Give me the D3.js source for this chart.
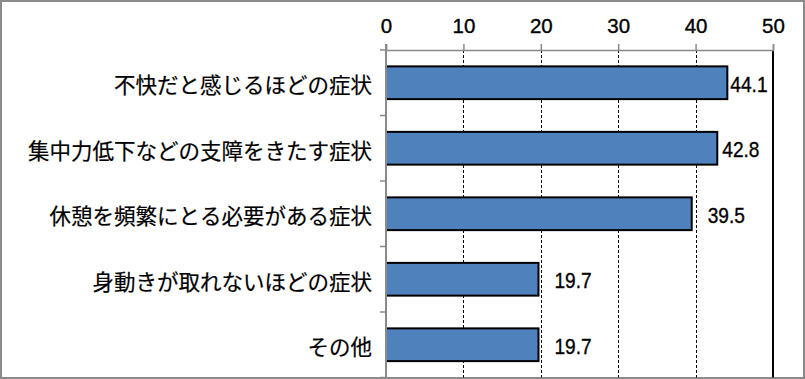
<!DOCTYPE html>
<html><head><meta charset="utf-8">
<script src="https://cdn.jsdelivr.net/npm/d3@7"></script>
<style>
html,body{margin:0;padding:0;background:#fff;}
svg{display:block;}
</style></head>
<body>
<svg id="chart" width="805" height="379"></svg>
<script>
const categories = ["不快だと感じるほどの症状","集中力低下などの支障をきたす症状","休憩を頻繁にとる必要がある症状","身動きが取れないほどの症状","その他"];
const values = [44.1, 42.8, 39.5, 19.7, 19.7];
const valueLabels = ["44.1","42.8","39.5","19.7","19.7"];
const labelGap = [3, 5, 16, 16, 16];
const tickValues = [0, 10, 20, 30, 40, 50];

(function(){
const svg = d3.select("#chart");
const W = 805, H = 379;
const pL = 386, pR = 773, pT = 50, pB = 377.5;

svg.append("rect").attr("x",1).attr("y",1).attr("width",W-2).attr("height",H-2)
  .attr("fill","#fff").attr("stroke","#8a8a8a").attr("stroke-width",2);

const x = d3.scaleLinear().domain([0,50]).range([pL,pR]);
const y = d3.scaleBand().domain(categories).range([pT,pB]).paddingInner(0.5).paddingOuter(0.25);

// gridlines
svg.append("g").selectAll("line").data(tickValues.filter(t=>t>0&&t<50)).join("line")
  .attr("x1",d=>Math.round(x(d))+0.5).attr("x2",d=>Math.round(x(d))+0.5)
  .attr("y1",pT).attr("y2",pB)
  .attr("stroke","#000").attr("stroke-width",1).attr("stroke-dasharray","3,2");

// right solid line
svg.append("line").attr("x1",x(50)).attr("x2",x(50)).attr("y1",pT).attr("y2",pB)
  .attr("stroke","#000").attr("stroke-width",2);

// top axis
const xAxis = d3.axisTop(x).tickValues(tickValues).tickSize(6).tickPadding(11).tickFormat(d3.format("d"));
const gx = svg.append("g").attr("transform",`translate(0,${pT})`).call(xAxis);
gx.attr("font-size",null).attr("font-family",null);
gx.select(".domain").attr("stroke","#8a8a8a").attr("stroke-width",1.5);
gx.selectAll(".tick line").attr("stroke","#8a8a8a").attr("stroke-width",1.5);
gx.selectAll(".tick text").attr("dy",null)
  .style("font-family","'Liberation Sans', Arial, sans-serif").style("font-size","20.5px")
  .attr("fill","#000").attr("stroke","#000").attr("stroke-width",0.35);

// bars
svg.append("g").selectAll("rect").data(values).join("rect")
  .attr("x",x(0)).attr("y",(d,i)=>y(categories[i]))
  .attr("width",d=>x(d)-x(0)).attr("height",y.bandwidth())
  .attr("fill","#4F81BD").attr("stroke","#000").attr("stroke-width",2);

// left axis with boundary ticks
const boundaries = categories.map(c=>y(c)-(y.step()-y.bandwidth())/2).concat([pB]);
svg.append("g").selectAll("line").data(boundaries).join("line")
  .attr("x1",pL-6).attr("x2",pL).attr("y1",d=>d).attr("y2",d=>d)
  .attr("stroke","#8a8a8a").attr("stroke-width",1.5);
svg.append("line").attr("x1",pL).attr("x2",pL).attr("y1",pT-6).attr("y2",pB)
  .attr("stroke","#8a8a8a").attr("stroke-width",2);

// category labels
svg.append("g").selectAll("text").data(categories).join("text")
  .attr("x",pL-14).attr("y",d=>y(d)+y.bandwidth()/2+1)
  .attr("text-anchor","end").attr("dominant-baseline","central")
  .style("font-family","'Noto Sans CJK JP', sans-serif").style("font-size","21.5px")
  .attr("fill","#000").attr("stroke","#000").attr("stroke-width",0.2)
  .text(d=>d);

// value labels
svg.append("g").selectAll("text").data(values).join("text")
  .attr("transform",(d,i)=>`translate(${x(d)+labelGap[i]},${y(categories[i])+y.bandwidth()/2+9}) scale(0.87,1)`)
  .style("font-family","'Liberation Sans', Arial, sans-serif").style("font-size","22px")
  .attr("fill","#000").attr("stroke","#000").attr("stroke-width",0.35)
  .text((d,i)=>valueLabels[i]);
})();
</script>
</body></html>
